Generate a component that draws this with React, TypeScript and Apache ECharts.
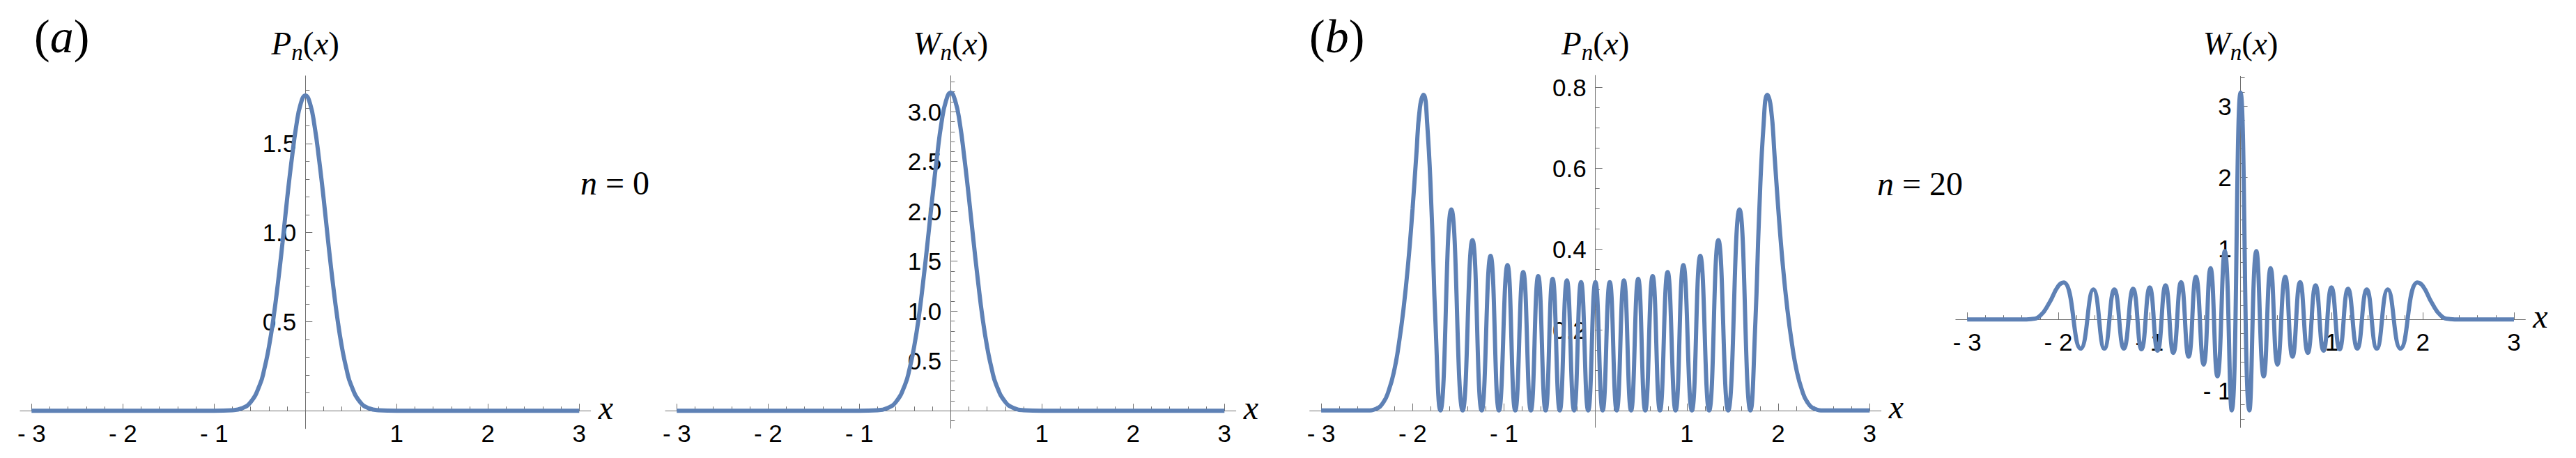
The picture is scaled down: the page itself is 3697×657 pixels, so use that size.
import React, { useEffect, useRef } from "react";
import * as echarts from "echarts";

// ---------------- data ----------------
// Panel (a), n = 0 : P_n(x)
const p0X = [-3, -1, -0.8, -0.7, -0.6, -0.5, -0.45, -0.4, -0.35, -0.3, -0.25, -0.2, -0.15, -0.1, -0.05, 0,
  0.05, 0.1, 0.15, 0.2, 0.25, 0.3, 0.35, 0.4, 0.45, 0.5, 0.6, 0.7, 0.8, 1, 3];
const p0Y = [0, 0, 0.003, 0.013, 0.048, 0.145, 0.234, 0.357, 0.52, 0.72, 0.947, 1.19, 1.41, 1.6, 1.726, 1.77,
  1.726, 1.6, 1.41, 1.19, 0.947, 0.72, 0.52, 0.357, 0.234, 0.145, 0.048, 0.013, 0.003, 0, 0];

// Panel (a), n = 0 : W_n(x)
const w0X = [-3, -1, -0.8, -0.7, -0.6, -0.5, -0.45, -0.4, -0.35, -0.3, -0.25, -0.2, -0.15, -0.1, -0.05, 0,
  0.05, 0.1, 0.15, 0.2, 0.25, 0.3, 0.35, 0.4, 0.45, 0.5, 0.6, 0.7, 0.8, 1, 3];
const w0Y = [0, 0, 0.005, 0.024, 0.087, 0.26, 0.42, 0.64, 0.93, 1.3, 1.71, 2.14, 2.54, 2.89, 3.11, 3.19,
  3.11, 2.89, 2.54, 2.14, 1.71, 1.3, 0.93, 0.64, 0.42, 0.26, 0.087, 0.024, 0.005, 0, 0];

// Panel (b), n = 20 : P_n(x)
const p20X = [-3, -2.5, -2.4, -2.32, -2.26, -2.2, -2.15, -2.1, -2.05, -2.0, -1.96, -1.92, -1.88, -1.84, -1.79,
  -1.75, -1.696, -1.576, -1.452, -1.345, -1.244, -1.147, -1.055, -0.962, -0.877, -0.79, -0.706, -0.626, -0.545,
  -0.468, -0.39, -0.312, -0.233, -0.157, -0.079, 0,
  0.079, 0.157, 0.233, 0.312, 0.39, 0.468, 0.545, 0.626, 0.706, 0.79, 0.877, 0.962, 1.055, 1.147, 1.244, 1.345,
  1.452, 1.576, 1.696, 1.75, 1.79, 1.84, 1.88, 1.92, 1.96, 2.0, 2.05, 2.1, 2.15, 2.2, 2.26, 2.32, 2.4, 2.5, 3];
const p20Y = [0, 0, 0.004, 0.02, 0.05, 0.1, 0.165, 0.25, 0.36, 0.5, 0.63, 0.75, 0.782, 0.71, 0.48,
  0.22, 0, 0.498, 0, 0.422, 0, 0.383, 0, 0.36, 0, 0.343, 0, 0.333, 0,
  0.326, 0, 0.322, 0, 0.318, 0, 0.318,
  0, 0.318, 0, 0.322, 0, 0.326, 0, 0.333, 0, 0.343, 0, 0.36, 0, 0.383, 0, 0.422,
  0, 0.498, 0, 0.22, 0.48, 0.71, 0.782, 0.75, 0.63, 0.5, 0.36, 0.25, 0.165, 0.1, 0.05, 0.02, 0.004, 0, 0];

// Panel (b), n = 20 : W_n(x)
const w20X = [-3, -2.4, -2.3, -2.2, -2.1, -2.0, -1.94, -1.755, -1.615, -1.495, -1.385, -1.281, -1.179, -1.087,
  -0.997, -0.91, -0.823, -0.738, -0.653, -0.57, -0.49, -0.405, -0.33, -0.254, -0.173, -0.097, 0,
  0.097, 0.173, 0.254, 0.33, 0.405, 0.49, 0.57, 0.653, 0.738, 0.823, 0.91, 0.997, 1.087, 1.179, 1.281, 1.385,
  1.495, 1.615, 1.755, 1.94, 2.0, 2.1, 2.2, 2.3, 2.4, 3];
const w20Y = [0, 0, 0.005, 0.05, 0.23, 0.47, 0.52, -0.41, 0.42, -0.41, 0.42, -0.41, 0.43, -0.42,
  0.45, -0.44, 0.48, -0.47, 0.525, -0.525, 0.6, -0.635, 0.72, -0.8, 0.96, -1.28, 3.19,
  -1.28, 0.96, -0.8, 0.72, -0.635, 0.6, -0.525, 0.525, -0.47, 0.48, -0.44, 0.45, -0.42, 0.43, -0.41, 0.42,
  -0.41, 0.42, -0.41, 0.52, 0.47, 0.23, 0.05, 0.005, 0, 0];

// tick labels
const xTickValues = [-3, -2, -1, 1, 2, 3];
const p0YTickValues = [0.5, 1.0, 1.5];
const w0YTickValues = [0.5, 1.0, 1.5, 2.0, 2.5, 3.0];
const p20YTickValues = [0.2, 0.4, 0.6, 0.8];
const w20YTickValues = [-1, 1, 2, 3];

// ---------------- styling / layout ----------------
const CURVE = "#5E81B5";
const AXIS = "#707070";
const SERIF = '"Liberation Serif", "Times New Roman", serif';
const SANS = '"Liberation Sans", Arial, sans-serif';
const X_MIN = -3.125;
const X_MAX = 3.125;

function minorTicks(from: number, to: number, step: number, major: number) {
  const out: number[] = [];
  const n = Math.round((to - from) / step);
  for (let k = 0; k <= n; k++) {
    const v = Math.round((from + k * step) * 1e6) / 1e6;
    const r = v / major;
    if (Math.abs(r - Math.round(r)) < 1e-6) continue;
    out.push(v);
  }
  return out;
}

const minusFmt = (v: number) => (v < 0 ? "- " + Math.abs(v) : String(v));

type Panel = {
  xs: number[]; ys: number[];
  ox: number; oy: number; ux: number; uy: number;
  yMin: number; yMax: number;
  yMajor: number[]; yMinor: number[];
  yFmt: (v: number) => string;
  title: string;
};

const panels: Panel[] = [
  { xs: p0X, ys: p0Y, ox: 438.3, oy: 589.2, ux: 131, uy: 255.5, yMin: -0.1, yMax: 1.88,
    yMajor: p0YTickValues, yMinor: minorTicks(0.1, 1.8, 0.1, 0.5), yFmt: (v) => v.toFixed(1), title: "P" },
  { xs: w0X, ys: w0Y, ox: 1364.3, oy: 589.2, ux: 131, uy: 143, yMin: -0.175, yMax: 3.36,
    yMajor: w0YTickValues, yMinor: minorTicks(-0.1, 3.3, 0.1, 0.5), yFmt: (v) => v.toFixed(1), title: "W" },
  { xs: p20X, ys: p20Y, ox: 2289.7, oy: 588.8, ux: 131.2, uy: 579, yMin: -0.042, yMax: 0.83,
    yMajor: p20YTickValues, yMinor: minorTicks(0.05, 0.8, 0.05, 0.2), yFmt: (v) => v.toFixed(1), title: "P" },
  { xs: w20X, ys: w20Y, ox: 3215.6, oy: 458.2, ux: 130.8, uy: 102, yMin: -1.52, yMax: 3.42,
    yMajor: w20YTickValues, yMinor: minorTicks(-1.4, 3.4, 0.2, 1), yFmt: minusFmt, title: "W" },
];

const xMinor = minorTicks(-3, 3, 0.2, 1);

// ---------------- text helpers ----------------
type Piece = { t: string; s: number; i?: boolean; dy?: number };
let measureCtx: CanvasRenderingContext2D | null = null;
function measure(t: string, font: string) {
  if (!measureCtx) measureCtx = document.createElement("canvas").getContext("2d");
  measureCtx!.font = font;
  return measureCtx!.measureText(t).width;
}
function textRow(pieces: Piece[], x: number, baseline: number, align: "left" | "center") {
  const fonts = pieces.map((p) => `${p.i ? "italic " : ""}${p.s}px ${SERIF}`);
  const widths = pieces.map((p, k) => measure(p.t, fonts[k]));
  const total = widths.reduce((a, b) => a + b, 0);
  let cx = align === "center" ? x - total / 2 : x;
  const els: any[] = [];
  pieces.forEach((p, k) => {
    els.push({
      type: "text",
      silent: true,
      style: {
        text: p.t,
        x: cx,
        y: baseline + (p.dy || 0) - 0.3375 * p.s,
        font: fonts[k],
        fill: "#000",
        align: "left",
        verticalAlign: "middle",
        textAlign: "left",
        textVerticalAlign: "middle",
      },
    });
    cx += widths[k];
  });
  return els;
}

function buildOption() {
  const grid: any[] = [];
  const xAxis: any[] = [];
  const yAxis: any[] = [];
  const series: any[] = [];
  const graphics: any[] = [];

  panels.forEach((p, i) => {
    grid.push({
      left: p.ox + X_MIN * p.ux,
      top: p.oy - p.yMax * p.uy,
      width: (X_MAX - X_MIN) * p.ux,
      height: (p.yMax - p.yMin) * p.uy,
      containLabel: false,
      outerBoundsMode: "none",
    });
    const xi = xAxis.length;
    const yi = yAxis.length;
    // axes sit at the zero of the other axis: shift them from the grid edges
    const xOffset = p.yMin * p.uy; // negative: moves the bottom axis up to y = 0
    const yOffset = X_MIN * p.ux; // negative: moves the left axis right to x = 0
    const baseX = { type: "value", gridIndex: i, min: X_MIN, max: X_MAX, position: "bottom", offset: xOffset, splitLine: { show: false } };
    const baseY = { type: "value", gridIndex: i, min: p.yMin, max: p.yMax, position: "left", offset: yOffset, splitLine: { show: false } };
    xAxis.push({
      ...baseX,
      axisLine: { show: true, onZero: false, lineStyle: { color: AXIS, width: 1 } },
      axisTick: { show: true, inside: true, length: 10, customValues: xTickValues, lineStyle: { color: AXIS, width: 1 } },
      axisLabel: { show: true, customValues: xTickValues, formatter: minusFmt, margin: 15, color: "#000", fontSize: 35, fontFamily: SANS },
    });
    xAxis.push({
      ...baseX,
      axisLine: { show: false, onZero: false },
      axisTick: { show: true, inside: true, length: 6, customValues: xMinor, lineStyle: { color: AXIS, width: 1 } },
      axisLabel: { show: false },
    });
    yAxis.push({
      ...baseY,
      axisLine: { show: true, onZero: false, lineStyle: { color: AXIS, width: 1 } },
      axisTick: { show: true, inside: true, length: 10, customValues: p.yMajor, lineStyle: { color: AXIS, width: 1 } },
      axisLabel: { show: true, customValues: p.yMajor, formatter: p.yFmt, margin: 13, color: "#000", fontSize: 35, fontFamily: SANS, padding: [0, 0, 6, 0] },
    });
    yAxis.push({
      ...baseY,
      axisLine: { show: false, onZero: false },
      axisTick: { show: true, inside: true, length: 6, customValues: p.yMinor, lineStyle: { color: AXIS, width: 1 } },
      axisLabel: { show: false },
    });
    series.push({
      type: "line",
      xAxisIndex: xi,
      yAxisIndex: yi,
      data: p.xs.map((x, k) => [x, p.ys[k]]),
      smooth: true,
      showSymbol: false,
      clip: false,
      silent: true,
      lineStyle: { color: CURVE, width: 6 },
      z: 5,
    });

    // panel title  P_n(x) / W_n(x)
    graphics.push(
      ...textRow(
        [
          { t: p.title, s: 47, i: true },
          { t: "n", s: 33, i: true, dy: 8 },
          { t: "(", s: 47 },
          { t: "x", s: 47, i: true },
          { t: ")", s: 47 },
        ],
        p.ox,
        78,
        "center"
      )
    );
    // axis name x
    graphics.push(...textRow([{ t: "x", s: 48, i: true }], p.ox + X_MAX * p.ux + 11, p.oy + 11, "left"));
  });

  graphics.push(...textRow([{ t: "(", s: 68 }, { t: "a", s: 68, i: true }, { t: ")", s: 68 }], 49, 75, "left"));
  graphics.push(...textRow([{ t: "(", s: 68 }, { t: "b", s: 68, i: true }, { t: ")", s: 68 }], 1879, 75, "left"));
  graphics.push(...textRow([{ t: "n", s: 48, i: true }, { t: " = 0", s: 48 }], 833, 279, "left"));
  graphics.push(...textRow([{ t: "n", s: 48, i: true }, { t: " = 20", s: 48 }], 2694, 280, "left"));

  return {
    animation: false,
    backgroundColor: "#ffffff",
    grid,
    xAxis,
    yAxis,
    series,
    graphic: { elements: graphics },
  };
}

export default function App() {
  const ref = useRef<HTMLDivElement>(null);
  useEffect(() => {
    document.body.style.margin = "0";
    if (!ref.current) return;
    const chart = echarts.init(ref.current, undefined, { renderer: "svg" });
    chart.setOption(buildOption() as any);
    return () => chart.dispose();
  }, []);
  return <div ref={ref} style={{ width: 3697, height: 657, background: "#fff" }} />;
}
